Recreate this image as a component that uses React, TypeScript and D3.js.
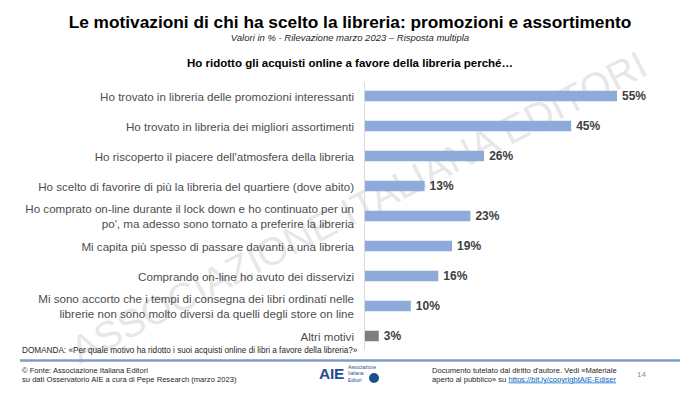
import React from 'react';
import * as d3 from 'd3';

// dati
const categories = [
  'Ho trovato in libreria delle promozioni interessanti',
  'Ho trovato in libreria dei migliori assortimenti',
  "Ho riscoperto il piacere dell'atmosfera della libreria",
  'Ho scelto di favorire di più la libreria del quartiere (dove abito)',
  "Ho comprato on-line durante il lock down e ho continuato per un\npo', ma adesso sono tornato a preferire la libreria",
  'Mi capita più spesso di passare davanti a una libreria',
  'Comprando on-line ho avuto dei disservizi',
  'Mi sono accorto che i tempi di consegna dei libri ordinati nelle\nlibrerie non sono molto diversi da quelli degli store on line',
  'Altri motivi',
];
const values = [55, 45, 26, 13, 23, 19, 16, 10, 3];

const W = 700;
const H = 394;
const font = '"Liberation Sans", Arial, sans-serif';

export default function App() {
  // scale
  const x = d3.scaleLinear().domain([0, 55]).range([365, 617]);
  const y = d3
    .scaleBand<string>()
    .domain(categories)
    .range([81, 351])
    .paddingInner(0.65)
    .paddingOuter(0.325);

  return (
    <svg
      width={W}
      height={H}
      viewBox={`0 0 ${W} ${H}`}
      style={{ position: 'absolute', left: 0, top: 0, background: '#fff' }}
      fontFamily={font}
    >
      {/* filigrana */}
      <text
        transform="translate(360,210) rotate(-27)"
        textAnchor="middle"
        dominantBaseline="middle"
        fontSize={39}
        fill="#c4c4c4"
        fillOpacity={0.42}
      >
        ASSOCIAZIONE ITALIANA EDITORI
      </text>

      <text x={350} y={27.5} textAnchor="middle" fontSize={17.3} fontWeight="bold" fill="#000">
        Le motivazioni di chi ha scelto la libreria: promozioni e assortimento
      </text>
      <text x={350} y={41} textAnchor="middle" fontSize={9.5} fontStyle="italic" fill="#262626">
        Valori in % - Rilevazione marzo 2023 – Risposta multipla
      </text>
      <text x={350} y={67} textAnchor="middle" fontSize={11.5} fontWeight="bold" fill="#000">
        Ho ridotto gli acquisti online a favore della libreria perché…
      </text>

      {/* asse */}
      <line x1={364.5} x2={364.5} y1={82} y2={350} stroke="#d9d9d9" strokeWidth={1} />

      {categories.map((c, i) => {
        const lines = c.split('\n');
        const cy = (y(c) ?? 0) + y.bandwidth() / 2;
        const last = i === categories.length - 1;
        return (
          <g key={c}>
            <rect
              x={x(0)}
              y={y(c)}
              width={x(values[i]) - x(0)}
              height={y.bandwidth()}
              fill={last ? '#7f7f7f' : '#8eaadb'}
            />
            <text
              x={x(values[i]) + 5}
              y={cy}
              dominantBaseline="central"
              fontSize={12}
              fontWeight="bold"
              fill="#404040"
            >
              {values[i]}%
            </text>
            {lines.map((l, j) => (
              <text
                key={j}
                x={354}
                y={cy + (j - (lines.length - 1) / 2) * 14.5}
                textAnchor="end"
                dominantBaseline="central"
                fontSize={11.6}
                fill="#4d4d4d"
              >
                {l}
              </text>
            ))}
          </g>
        );
      })}

      <text x={22} y={353} fontSize={8.2} fill="#262626">
        DOMANDA: «Per quale motivo ha ridotto i suoi acquisti online di libri a favore della libreria?»
      </text>

      {/* piè di pagina */}
      <line x1={20} x2={680} y1={360.5} y2={360.5} stroke="#7f9cc7" strokeWidth={2.5} />
      <text x={22} y={373} fontSize={7.6} fill="#262626">
        © Fonte: Associazione Italiana Editori
      </text>
      <text x={22} y={381.5} fontSize={7.6} fill="#262626">
        su dati Osservatorio AIE a cura di Pepe Research (marzo 2023)
      </text>

      <text x={319} y={378.5} fontSize={15.5} fontWeight="bold" fill="#1f4e8f" letterSpacing={-0.3}>
        AIE
      </text>
      <text x={348} y={368.5} fontSize={4.8} fill="#1f4e8f">Associazione</text>
      <text x={348} y={375} fontSize={4.8} fill="#1f4e8f">Italiana</text>
      <text x={348} y={381.5} fontSize={4.8} fill="#1f4e8f">Editori</text>
      <circle cx={374} cy={378} r={5} fill="#1f4e8f" />

      <text x={432} y={373} fontSize={7.6} fill="#262626">
        Documento tutelato dal diritto d'autore. Vedi «Materiale
      </text>
      <text x={432} y={381.5} fontSize={7.6} fill="#262626">
        aperto al pubblico» su{' '}
        <tspan fill="#0563c1" textDecoration="underline">
          https://bit.ly/copyrightAIE-Ediser
        </tspan>
      </text>
      <text x={637} y={377} fontSize={8} fill="#8c8c8c">
        14
      </text>
    </svg>
  );
}
